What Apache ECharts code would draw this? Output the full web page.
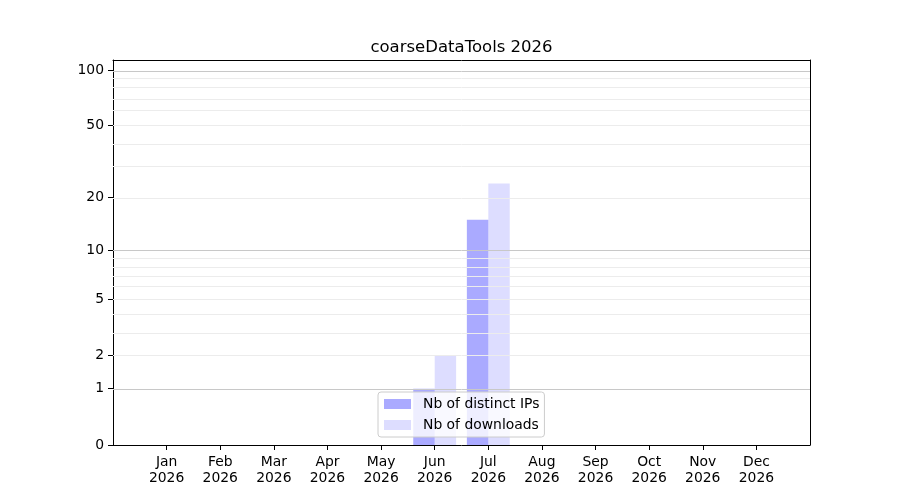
<!DOCTYPE html>
<html>
<head>
<meta charset="utf-8">
<script src="https://cdn.jsdelivr.net/npm/echarts@6/dist/echarts.min.js"></script>
<style>
  html, body { margin: 0; padding: 0; background: #fff; }
  #chart { width: 900px; height: 500px; }
</style>
</head>
<body>
<div id="chart"></div>
<script>
// values
const year = 2026;
const months = ['Jan', 'Feb', 'Mar', 'Apr', 'May', 'Jun', 'Jul', 'Aug', 'Sep', 'Oct', 'Nov', 'Dec'];
const distinctIPs = [0, 0, 0, 0, 0, 1, 15, 0, 0, 0, 0, 0];
const downloads = [0, 0, 0, 0, 0, 2, 24, 0, 0, 0, 0, 0];
const yTicks = [0, 1, 2, 5, 10, 20, 50, 100];
const majorGrid = [1, 10, 100];
const minorGrid = [2, 3, 4, 5, 6, 7, 8, 9, 20, 30, 40, 50, 60, 70, 80, 90];

// y scale of the original is log10(1 + v)
function tf(v) { return Math.log10(1 + v); }
function untf(t) { return Math.round(Math.pow(10, t) - 1); }

// one empty slot each side so months sit a full step away from the frame
const cats = [''].concat(months.map(m => m + '\n' + year), ['']);
const pad = arr => [null].concat(arr.map(v => tf(v)), [null]);

const font = 'DejaVu Sans';
const yMax = 2.058;

function gridLines(values, color) {
    return values.map(v => ({ yAxis: tf(v), lineStyle: { color: color, width: 1, type: 'solid' } }));
}

// plain axis used only to draw the top / right frame
function frameAxis(type, position, extra) {
    return Object.assign({
        type: type,
        position: position,
        axisLine: { show: true, onZero: false, lineStyle: { color: '#000', width: 1 } },
        axisTick: { show: false },
        axisLabel: { show: false },
        splitLine: { show: false }
    }, extra);
}

let chart = echarts.init(document.getElementById('chart'));
chart.setOption({
    animation: false,
    title: {
        text: 'coarseDataTools ' + year,
        left: 461.5,
        top: 39,
        padding: 0,
        textAlign: 'center',
        textStyle: { fontFamily: font, fontSize: 16.5, fontWeight: 'normal', color: '#000' }
    },
    grid: { left: 113, right: 90, top: 60, bottom: 55 },
    legend: {
        data: ['Nb of distinct IPs', 'Nb of downloads'],
        orient: 'vertical',
        left: 378,
        top: 392,
        padding: [5, 5, 5, 6],
        itemGap: 7,
        itemWidth: 27,
        itemHeight: 10,
        icon: 'rect',
        backgroundColor: 'rgba(255,255,255,0.8)',
        borderColor: '#cccccc',
        borderWidth: 1,
        borderRadius: 3,
        textStyle: { fontFamily: font, fontSize: 13.9, color: '#000', lineHeight: 14, padding: [0, 0, 0, 7] }
    },
    xAxis: [
        {
            type: 'category',
            data: cats,
            boundaryGap: false,
            axisLine: { lineStyle: { color: '#000', width: 1 } },
            axisTick: {
                length: 5,
                interval: (i) => i > 0 && i < cats.length - 1,
                lineStyle: { color: '#000' }
            },
            axisLabel: {
                interval: 0,
                margin: 9,
                fontFamily: font,
                fontSize: 13.9,
                lineHeight: 16.5,
                color: '#000'
            },
            splitLine: { show: false }
        },
        frameAxis('category', 'top', { data: cats, boundaryGap: false })
    ],
    yAxis: [
        {
            type: 'value',
            min: 0,
            max: yMax,
            axisLine: { show: true, lineStyle: { color: '#000', width: 1 } },
            axisTick: {
                show: true,
                length: 5,
                customValues: yTicks.map(tf),
                lineStyle: { color: '#000' }
            },
            axisLabel: {
                customValues: yTicks.map(tf),
                formatter: (t) => '' + untf(t),
                margin: 9,
                padding: [3, 0, 0, 0],
                fontFamily: font,
                fontSize: 13.9,
                color: '#000'
            },
            splitLine: { show: false }
        },
        frameAxis('value', 'right', { min: 0, max: yMax })
    ],
    series: [
        {
            name: 'grid',
            type: 'line',
            data: [],
            z: 1,
            silent: true,
            markLine: {
                silent: true,
                symbol: 'none',
                label: { show: false },
                data: gridLines(minorGrid, '#ececec').concat(gridLines(majorGrid, '#c8c8c8'))
            }
        },
        {
            name: 'Nb of distinct IPs',
            type: 'bar',
            data: pad(distinctIPs),
            barWidth: '40%',
            barGap: '0%',
            z: 2,
            itemStyle: { color: 'rgba(0,0,255,0.333)' }
        },
        {
            name: 'Nb of downloads',
            type: 'bar',
            data: pad(downloads),
            barWidth: '40%',
            barGap: '0%',
            z: 2,
            itemStyle: { color: 'rgba(0,0,255,0.133)' }
        }
    ]
});
</script>
</body>
</html>
